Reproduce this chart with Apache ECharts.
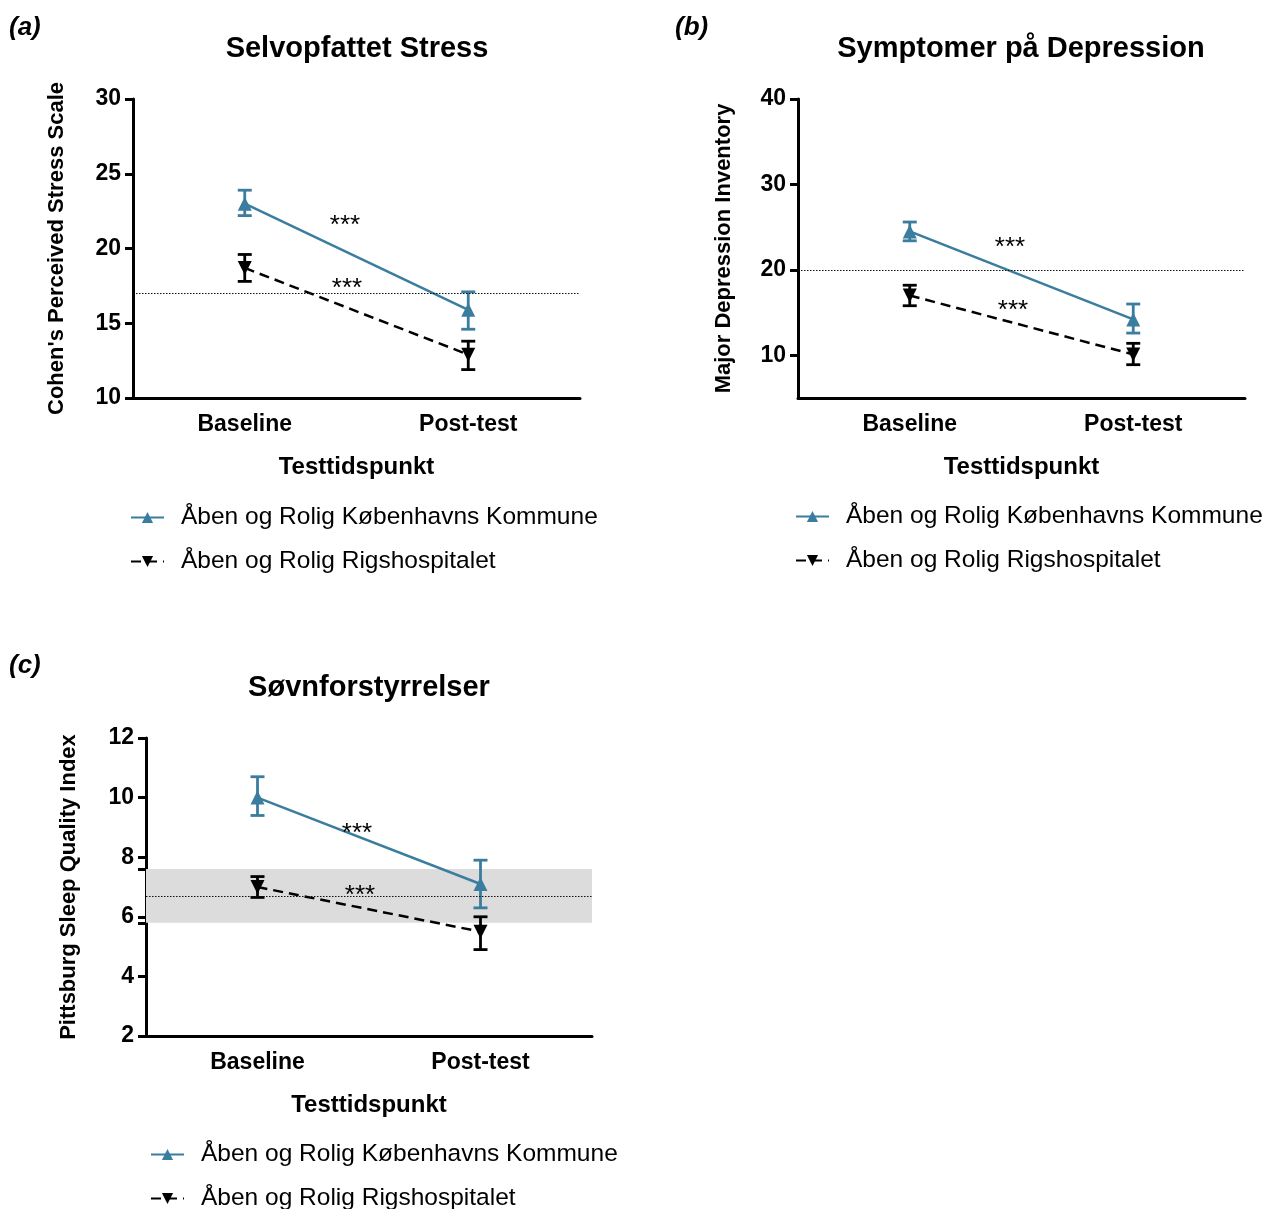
<!DOCTYPE html>
<html>
<head>
<meta charset="utf-8">
<title>Åben og Rolig</title>
<script src="https://cdn.jsdelivr.net/npm/echarts@6/dist/echarts.min.js"></script>
<style>
  html, body { margin: 0; padding: 0; background: #fff; }
  #chart { width: 1267px; height: 1209px; }
</style>
</head>
<body>
<div id="chart"></div>
<script>
// Data
const categories = ['Baseline', 'Post-test'];
const nameKbh = 'Åben og Rolig Københavns Kommune';
const nameRig = 'Åben og Rolig Rigshospitalet';

// (a) Selvopfattet Stress
const stressKbh = [23.0, 15.9];
const stressKbhLow = [22.2, 14.6];
const stressKbhHigh = [23.9, 17.1];
const stressRig = [18.7, 12.9];
const stressRigLow = [17.8, 11.9];
const stressRigHigh = [19.6, 13.8];
const stressCutoff = 17;
const stressTicks = [10, 15, 20, 25, 30];

// (b) Symptomer på Depression
const deprKbh = [24.5, 14.2];
const deprKbhLow = [23.4, 12.6];
const deprKbhHigh = [25.6, 16.0];
const deprRig = [17.0, 10.1];
const deprRigLow = [15.8, 8.9];
const deprRigHigh = [18.2, 11.4];
const deprCutoff = 20;
const deprTicks = [10, 20, 30, 40];

// (c) Søvnforstyrrelser
const sleepKbh = [10.0, 7.1];
const sleepKbhLow = [9.4, 6.3];
const sleepKbhHigh = [10.7, 7.9];
const sleepRig = [7.0, 5.5];
const sleepRigLow = [6.65, 4.9];
const sleepRigHigh = [7.35, 6.0];
const sleepCutoff = 6.7;
const sleepBand = [5.8, 7.6];
const sleepTicks = [2, 4, 6, 8, 10, 12];

const BLUE = '#3a7d9e';
const FONT = '"Liberation Sans", Arial, Helvetica, sans-serif';

const chart = echarts.init(document.getElementById('chart'));

const grids = [
    { left: 133, top: 99, width: 447, height: 299 },
    { left: 798, top: 99, width: 447, height: 299 },
    { left: 146, top: 738, width: 446, height: 298 }
];

function xAxisFor(gridIndex) {
    return {
        type: 'category',
        gridIndex: gridIndex,
        data: categories,
        boundaryGap: true,
        name: 'Testtidspunkt',
        nameLocation: 'middle',
        nameGap: 57,
        nameTextStyle: { fontFamily: FONT, fontSize: 24, fontWeight: 'bold', color: '#000' },
        axisLine: { lineStyle: { color: '#000', width: 3 } },
        axisTick: { alignWithLabel: true, length: 10, lineStyle: { color: '#000', width: 3 } },
        axisLabel: { margin: 15, fontFamily: FONT, fontSize: 23, fontWeight: 'bold', color: '#000' },
        splitLine: { show: false }
    };
}

function yAxisFor(gridIndex, name, min, max, labelValues, tickValues, nameGap) {
    return {
        type: 'value',
        gridIndex: gridIndex,
        min: min,
        max: max,
        name: name,
        nameLocation: 'middle',
        nameGap: nameGap,
        nameTextStyle: { fontFamily: FONT, fontSize: 22, fontWeight: 'bold', color: '#000' },
        axisLine: { show: true, lineStyle: { color: '#000', width: 3 } },
        axisTick: { show: true, length: 8, customValues: tickValues, lineStyle: { color: '#000', width: 3 } },
        axisLabel: { margin: 12, customValues: labelValues, fontFamily: FONT, fontSize: 23, fontWeight: 'bold', color: '#000' },
        splitLine: { show: false }
    };
}

function errorBars(gridIndex, low, high, color) {
    return {
        type: 'custom',
        xAxisIndex: gridIndex,
        yAxisIndex: gridIndex,
        z: 3,
        silent: true,
        data: low.map((v, i) => [i, v, high[i]]),
        encode: { x: 0, y: [1, 2] },
        renderItem: function(params, api) {
            const lo = api.coord([api.value(0), api.value(1)]);
            const hi = api.coord([api.value(0), api.value(2)]);
            const half = 7;
            const style = { stroke: color, lineWidth: 2.8 };
            return {
                type: 'group',
                children: [
                    { type: 'line', shape: { x1: lo[0], y1: lo[1], x2: hi[0], y2: hi[1] }, style: style },
                    { type: 'line', shape: { x1: lo[0] - half, y1: lo[1], x2: lo[0] + half, y2: lo[1] }, style: style },
                    { type: 'line', shape: { x1: hi[0] - half, y1: hi[1], x2: hi[0] + half, y2: hi[1] }, style: style }
                ]
            };
        }
    };
}

function cutoffLine(value) {
    return {
        silent: true,
        symbol: 'none',
        label: { show: false },
        lineStyle: { color: '#111', width: 1, type: [1.5, 1.5] },
        data: [{ yAxis: value }]
    };
}

function kbhSeries(gridIndex, values, extra) {
    return Object.assign({
        name: nameKbh,
        type: 'line',
        xAxisIndex: gridIndex,
        yAxisIndex: gridIndex,
        data: values,
        z: 4,
        symbol: 'triangle',
        symbolSize: 14,
        color: BLUE,
        lineStyle: { color: BLUE, width: 2.5 },
        itemStyle: { color: BLUE }
    }, extra || {});
}

function rigSeries(gridIndex, values) {
    return {
        name: nameRig,
        type: 'line',
        xAxisIndex: gridIndex,
        yAxisIndex: gridIndex,
        data: values,
        z: 4,
        symbol: 'triangle',
        symbolRotate: 180,
        symbolSize: 14,
        color: '#000',
        lineStyle: { color: '#000', width: 2.5, type: [10, 6] },
        itemStyle: { color: '#000' }
    };
}

function legendFor(left, top) {
    return {
        left: left,
        top: top,
        padding: 0,
        height: 90,
        orient: 'vertical',
        itemWidth: 33,
        itemHeight: 14,
        itemGap: 19,
        selectedMode: false,
        data: [nameKbh, nameRig],
        textStyle: { fontFamily: FONT, fontSize: 24.5, color: '#000', lineHeight: 25, padding: [0, 0, 0, 12] }
    };
}

function titleFor(text, centerX, top) {
    return {
        text: text,
        left: centerX,
        top: top,
        textAlign: 'center',
        padding: 0,
        textStyle: { fontFamily: FONT, fontSize: 29, fontWeight: 'bold', color: '#000' }
    };
}

function starText(x, y) {
    return {
        type: 'text', x: x, y: y, z: 100,
        style: { text: '***', font: '26px ' + FONT, fill: '#000', align: 'center', verticalAlign: 'middle' }
    };
}

function panelLabel(text, x, y) {
    return {
        type: 'text', x: x, y: y, z: 100,
        style: { text: text, font: 'italic bold 26px ' + FONT, fill: '#000', align: 'left', verticalAlign: 'middle' }
    };
}

const option = {
    backgroundColor: '#fff',
    animation: false,
    title: [
        titleFor('Selvopfattet Stress', 357, 34),
        titleFor('Symptomer på Depression', 1021, 34),
        titleFor('Søvnforstyrrelser', 369, 673)
    ],
    legend: [
        legendFor(130, 505),
        legendFor(795, 504),
        legendFor(150, 1142)
    ],
    grid: grids,
    xAxis: [xAxisFor(0), xAxisFor(1), xAxisFor(2)],
    yAxis: [
        yAxisFor(0, "Cohen's Perceived Stress Scale", 10, 30, stressTicks, stressTicks, 65),
        yAxisFor(1, 'Major Depression Inventory', 5, 40, deprTicks, deprTicks, 63),
        yAxisFor(2, 'Pittsburg Sleep Quality Index', 2, 12, sleepTicks, sleepTicks.concat(sleepBand), 66)
    ],
    series: [
        kbhSeries(0, stressKbh, { markLine: cutoffLine(stressCutoff) }),
        rigSeries(0, stressRig),
        errorBars(0, stressKbhLow, stressKbhHigh, BLUE),
        errorBars(0, stressRigLow, stressRigHigh, '#000'),

        kbhSeries(1, deprKbh, { markLine: cutoffLine(deprCutoff) }),
        rigSeries(1, deprRig),
        errorBars(1, deprKbhLow, deprKbhHigh, BLUE),
        errorBars(1, deprRigLow, deprRigHigh, '#000'),

        kbhSeries(2, sleepKbh, {
            markLine: cutoffLine(sleepCutoff),
            markArea: {
                silent: true,
                itemStyle: { color: '#dcdcdc' },
                data: [[{ yAxis: sleepBand[0] }, { yAxis: sleepBand[1] }]]
            }
        }),
        rigSeries(2, sleepRig),
        errorBars(2, sleepKbhLow, sleepKbhHigh, BLUE),
        errorBars(2, sleepRigLow, sleepRigHigh, '#000')
    ],
    graphic: [
        panelLabel('(a)', 9, 28),
        panelLabel('(b)', 675, 28),
        panelLabel('(c)', 9, 666),
        starText(345, 226),
        starText(347, 289),
        starText(1010, 248),
        starText(1013, 311),
        starText(357, 834),
        starText(360, 896)
    ]
};

chart.setOption(option);
</script>
</body>
</html>
